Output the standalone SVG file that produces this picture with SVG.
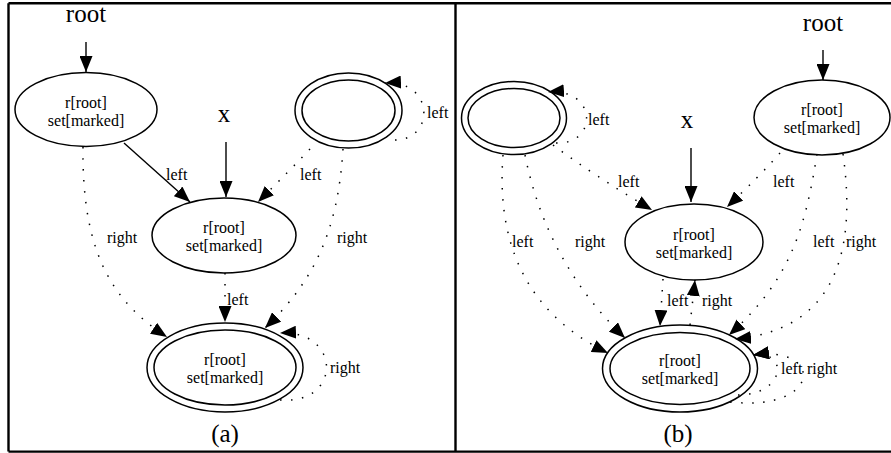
<svg xmlns="http://www.w3.org/2000/svg" width="891" height="453" viewBox="0 0 891 453">
<style>
.frame{fill:none;stroke:#000;stroke-width:2.4}
.node{fill:none;stroke:#000;stroke-width:1.5}
.e{fill:none;stroke:#000;stroke-width:1.4}
.d{fill:none;stroke:#000;stroke-width:1.5;stroke-dasharray:1.5 9.5}
.t{font-family:"Liberation Serif","Times New Roman",serif;font-size:16px;fill:#000}
.big{font-family:"Liberation Serif","Times New Roman",serif;font-size:25px;fill:#000}
</style>
<defs>
<marker id="ah" viewBox="0 0 16 13" refX="16" refY="6.5" markerWidth="16" markerHeight="13" markerUnits="userSpaceOnUse" orient="auto">
<path d="M0,0 L16,6.5 L0,13 Z" fill="#000"/>
</marker>
</defs>
<g id="frame">
<path class="frame" d="M8.5,3.3 H891 M8.5,451.6 H891 M8.5,3.3 V451.6 M455.5,3.3 V451.6"/>
</g>
<g id="connectors">
<!-- panel a -->
<path class="e" d="M86,42 L86,72" marker-end="url(#ah)"/>
<path class="e" d="M226,142 L226,197" marker-end="url(#ah)"/>
<path class="e" d="M124,143 L190,202" marker-end="url(#ah)"/>
<path class="d" d="M310,149 C295,165 280,180 258,202" marker-end="url(#ah)"/>
<path class="d" d="M343,149 C338,230 315,280 265,328" marker-end="url(#ah)"/>
<path class="d" d="M83,147 C82,250 110,300 167,337" marker-end="url(#ah)"/>
<path class="d" d="M225,273 L225,322" marker-end="url(#ah)"/>
<path class="d" d="M280,400 C342,405 342,330 280,333" marker-end="url(#ah)"/>
<path class="d" d="M395,140 C435,140 435,80 385,83" marker-end="url(#ah)"/>
<!-- panel b -->
<path class="e" d="M823,50 L823,80" marker-end="url(#ah)"/>
<path class="e" d="M691,148 L691,202" marker-end="url(#ah)"/>
<path class="d" d="M553,145 C580,165 610,185 652,210" marker-end="url(#ah)"/>
<path class="d" d="M780,153 C765,170 750,185 727,207" marker-end="url(#ah)"/>
<path class="d" d="M503,155 C495,260 540,320 608,353" marker-end="url(#ah)"/>
<path class="d" d="M525,155 C540,230 575,290 625,338" marker-end="url(#ah)"/>
<path class="d" d="M817,154 C805,230 790,280 729,335" marker-end="url(#ah)"/>
<path class="d" d="M843,154 C858,260 830,330 735,339" marker-end="url(#ah)"/>
<path class="d" d="M663,279 L660,326" marker-end="url(#ah)"/>
<path class="d" d="M690,325 L695,280" marker-end="url(#ah)"/>
<path class="d" d="M738,395 C785,395 790,350 753,355" marker-end="url(#ah)"/>
<path class="d" d="M730,402 C822,412 825,345 753,355" marker-end="url(#ah)"/>
<path class="d" d="M556,143 C598,145 598,88 548,92" marker-end="url(#ah)"/>
</g>
<g id="labels">
<text class="big" x="86" y="22" text-anchor="middle">root</text>
<text class="big" x="224" y="122" text-anchor="middle">x</text>
<text class="big" x="225" y="442" text-anchor="middle">(a)</text>
<text class="t" x="166" y="180">left</text>
<text class="t" x="300" y="180">left</text>
<text class="t" x="427" y="118">left</text>
<text class="t" x="107" y="243">right</text>
<text class="t" x="337" y="243">right</text>
<text class="t" x="227" y="305">left</text>
<text class="t" x="330" y="373">right</text>
<text class="big" x="823" y="31" text-anchor="middle">root</text>
<text class="big" x="687" y="128" text-anchor="middle">x</text>
<text class="big" x="678" y="442" text-anchor="middle">(b)</text>
<text class="t" x="588" y="125">left</text>
<text class="t" x="618" y="187">left</text>
<text class="t" x="773" y="187">left</text>
<text class="t" x="512" y="247">left</text>
<text class="t" x="575" y="247">right</text>
<text class="t" x="813" y="247">left</text>
<text class="t" x="846" y="247">right</text>
<text class="t" x="667" y="306">left</text>
<text class="t" x="702" y="306">right</text>
<text class="t" x="781" y="374">left</text>
<text class="t" x="807" y="374">right</text>
</g>
<g id="a_root">
<ellipse class="node" cx="86" cy="109.5" rx="71" ry="37"/>
<text class="t" x="86" y="108" text-anchor="middle">r[root]</text>
<text class="t" x="86" y="126" text-anchor="middle">set[marked]</text>
</g>
<g id="a_top">
<ellipse class="node" cx="348.5" cy="110.5" rx="53.5" ry="37.5"/>
<ellipse class="node" cx="348.5" cy="110.5" rx="46.5" ry="30.5"/>
</g>
<g id="a_mid">
<ellipse class="node" cx="224" cy="235.5" rx="72" ry="37.5"/>
<text class="t" x="224" y="233" text-anchor="middle">r[root]</text>
<text class="t" x="224" y="251" text-anchor="middle">set[marked]</text>
</g>
<g id="a_bottom">
<ellipse class="node" cx="225" cy="367.5" rx="78" ry="44.5"/>
<ellipse class="node" cx="225" cy="367.5" rx="71" ry="37.5"/>
<text class="t" x="225" y="365" text-anchor="middle">r[root]</text>
<text class="t" x="225" y="383" text-anchor="middle">set[marked]</text>
</g>
<g id="b_root">
<ellipse class="node" cx="822" cy="117.5" rx="68" ry="37.5"/>
<text class="t" x="822" y="115" text-anchor="middle">r[root]</text>
<text class="t" x="822" y="133" text-anchor="middle">set[marked]</text>
</g>
<g id="b_top">
<ellipse class="node" cx="514" cy="118" rx="52.5" ry="36.5"/>
<ellipse class="node" cx="514" cy="118" rx="46" ry="29.5"/>
</g>
<g id="b_mid">
<ellipse class="node" cx="694" cy="242" rx="69" ry="38"/>
<text class="t" x="694" y="240" text-anchor="middle">r[root]</text>
<text class="t" x="694" y="258" text-anchor="middle">set[marked]</text>
</g>
<g id="b_bottom">
<ellipse class="node" cx="680" cy="368.5" rx="77.5" ry="43.5"/>
<ellipse class="node" cx="680" cy="368.5" rx="70" ry="36"/>
<text class="t" x="680" y="366" text-anchor="middle">r[root]</text>
<text class="t" x="680" y="384" text-anchor="middle">set[marked]</text>
</g>
</svg>
